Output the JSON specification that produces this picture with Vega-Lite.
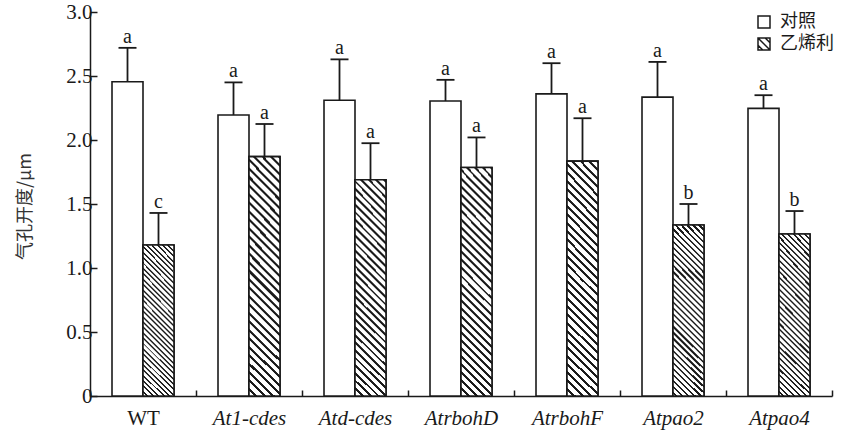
{
  "$schema": "https://vega.github.io/schema/vega-lite/v6.json",
  "autosize": {"type": "none"},
  "padding": {"left": 90, "top": 12, "right": 9, "bottom": 34},
  "width": 742,
  "height": 384,
  "background": "white",
  "config": {"view": {"stroke": null}, "font": "Liberation Serif"},
  "data": {"values": [
    {"gene": "WT", "treatment": "对照", "value": 2.455, "upper": 2.72, "letter": "a"},
    {"gene": "WT", "treatment": "乙烯利", "value": 1.18, "upper": 1.43, "letter": "c"},
    {"gene": "At1-cdes", "treatment": "对照", "value": 2.195, "upper": 2.45, "letter": "a"},
    {"gene": "At1-cdes", "treatment": "乙烯利", "value": 1.87, "upper": 2.125, "letter": "a"},
    {"gene": "Atd-cdes", "treatment": "对照", "value": 2.31, "upper": 2.63, "letter": "a"},
    {"gene": "Atd-cdes", "treatment": "乙烯利", "value": 1.69, "upper": 1.975, "letter": "a"},
    {"gene": "AtrbohD", "treatment": "对照", "value": 2.305, "upper": 2.47, "letter": "a"},
    {"gene": "AtrbohD", "treatment": "乙烯利", "value": 1.785, "upper": 2.02, "letter": "a"},
    {"gene": "AtrbohF", "treatment": "对照", "value": 2.36, "upper": 2.6, "letter": "a"},
    {"gene": "AtrbohF", "treatment": "乙烯利", "value": 1.835, "upper": 2.17, "letter": "a"},
    {"gene": "Atpao2", "treatment": "对照", "value": 2.335, "upper": 2.61, "letter": "a"},
    {"gene": "Atpao2", "treatment": "乙烯利", "value": 1.336, "upper": 1.5, "letter": "b"},
    {"gene": "Atpao4", "treatment": "对照", "value": 2.247, "upper": 2.35, "letter": "a"},
    {"gene": "Atpao4", "treatment": "乙烯利", "value": 1.266, "upper": 1.445, "letter": "b"}
  ]},
  "encoding": {
    "x": {
      "field": "gene", "type": "nominal",
      "sort": ["WT", "At1-cdes", "Atd-cdes", "AtrbohD", "AtrbohF", "Atpao2", "Atpao4"],
      "scale": {"paddingInner": 0, "paddingOuter": 0},
      "axis": {
        "title": null, "tickBand": "extent", "labelAngle": 0,
        "labelFontSize": 21, "labelFont": "Liberation Serif", "labelColor": "#1a1a1a",
        "labelFontStyle": {"condition": {"test": "datum.value === 'WT'", "value": "normal"}, "value": "italic"},
        "labelPadding": 17, "tickSize": -6, "tickColor": "#1a1a1a", "tickWidth": 1.5,
        "domainColor": "#1a1a1a", "domainWidth": 1.5
      }
    },
    "xOffset": {"field": "treatment", "type": "nominal", "sort": ["对照", "乙烯利"], "scale": {"paddingInner": 0, "paddingOuter": 0.71}}
  },
  "layer": [
    {
      "mark": {"type": "point", "filled": false, "color": "#1a1a1a", "strokeWidth": 1.5, "opacity": 1, "yOffset": 60, "size": 20},
      "encoding": {
        "y": {"field": "value", "type": "quantitative"},
        "shape": {
          "field": "treatment", "type": "nominal",
          "scale": {"domain": ["对照", "乙烯利"], "range": ["M-1,-1H1V1H-1Z", "M-1,-1H1V1H-1Z M-1,-1L1,1 M0.2,-1L1,-0.2 M-1,0.2L-0.2,1"]},
          "legend": {
            "title": null, "orient": "none", "legendX": 665, "legendY": 1, "padding": 0,
            "symbolSize": 144, "symbolStrokeColor": "#1a1a1a", "symbolStrokeWidth": 1.5, "symbolOpacity": 1,
            "labelFont": "Noto Sans CJK SC", "labelFontSize": 18, "labelColor": "#1a1a1a", "labelOffset": 7, "rowPadding": 4
          }
        }
      }
    },
    {
      "mark": {"type": "bar", "fill": "#ffffff", "stroke": "#1a1a1a", "strokeWidth": 1.6, "opacity": 1},
      "encoding": {
        "y": {
          "field": "value", "type": "quantitative",
          "scale": {"domain": [0, 3], "nice": false},
          "axis": {
            "title": "气孔开度/μm", "values": [0, 0.5, 1, 1.5, 2, 2.5, 3],
            "labelExpr": "datum.value === 0 ? '0' : format(datum.value, '.1f')",
            "grid": false, "domainColor": "#1a1a1a", "domainWidth": 1.5,
            "tickColor": "#1a1a1a", "tickWidth": 1.5, "tickSize": -7, "labelPadding": 5,
            "labelFontSize": 21, "labelFont": "Liberation Serif", "labelColor": "#1a1a1a",
            "titleFont": "Noto Sans CJK SC", "titleFontSize": 18, "titleFontWeight": "normal", "titleColor": "#333333",
            "titleX": -65, "titleY": 194, "titleAngle": -90, "titleBaseline": "middle", "titleAlign": "center"
          }
        }
      }
    },
    {
      "transform": [{"filter": "datum.treatment === '乙烯利'"}],
      "mark": {"type": "bar", "stroke": "#1a1a1a", "strokeWidth": 1.6, "opacity": 1,
        "fill": {"gradient": "radial", "x1": 20.5, "y1": -19.5, "r1": 27.7843, "x2": 20.5, "y2": -19.5, "r2": 28.7843, "stops": [
          {"offset": 0, "color": "#1a1a1a"}, {"offset": 0.009, "color": "#1a1a1a"}, {"offset": 0.009, "color": "#fff"},
          {"offset": 0.025, "color": "#fff"}, {"offset": 0.025, "color": "#1a1a1a"}, {"offset": 0.034, "color": "#1a1a1a"}, {"offset": 0.034, "color": "#fff"},
          {"offset": 0.05, "color": "#fff"}, {"offset": 0.05, "color": "#1a1a1a"}, {"offset": 0.059, "color": "#1a1a1a"}, {"offset": 0.059, "color": "#fff"},
          {"offset": 0.075, "color": "#fff"}, {"offset": 0.075, "color": "#1a1a1a"}, {"offset": 0.084, "color": "#1a1a1a"}, {"offset": 0.084, "color": "#fff"},
          {"offset": 0.1, "color": "#fff"}, {"offset": 0.1, "color": "#1a1a1a"}, {"offset": 0.109, "color": "#1a1a1a"}, {"offset": 0.109, "color": "#fff"},
          {"offset": 0.125, "color": "#fff"}, {"offset": 0.125, "color": "#1a1a1a"}, {"offset": 0.134, "color": "#1a1a1a"}, {"offset": 0.134, "color": "#fff"},
          {"offset": 0.15, "color": "#fff"}, {"offset": 0.15, "color": "#1a1a1a"}, {"offset": 0.159, "color": "#1a1a1a"}, {"offset": 0.159, "color": "#fff"},
          {"offset": 0.175, "color": "#fff"}, {"offset": 0.175, "color": "#1a1a1a"}, {"offset": 0.184, "color": "#1a1a1a"}, {"offset": 0.184, "color": "#fff"},
          {"offset": 0.2, "color": "#fff"}, {"offset": 0.2, "color": "#1a1a1a"}, {"offset": 0.209, "color": "#1a1a1a"}, {"offset": 0.209, "color": "#fff"},
          {"offset": 0.225, "color": "#fff"}, {"offset": 0.225, "color": "#1a1a1a"}, {"offset": 0.234, "color": "#1a1a1a"}, {"offset": 0.234, "color": "#fff"},
          {"offset": 0.25, "color": "#fff"}, {"offset": 0.25, "color": "#1a1a1a"}, {"offset": 0.259, "color": "#1a1a1a"}, {"offset": 0.259, "color": "#fff"},
          {"offset": 0.275, "color": "#fff"}, {"offset": 0.275, "color": "#1a1a1a"}, {"offset": 0.284, "color": "#1a1a1a"}, {"offset": 0.284, "color": "#fff"},
          {"offset": 0.3, "color": "#fff"}, {"offset": 0.3, "color": "#1a1a1a"}, {"offset": 0.309, "color": "#1a1a1a"}, {"offset": 0.309, "color": "#fff"},
          {"offset": 0.325, "color": "#fff"}, {"offset": 0.325, "color": "#1a1a1a"}, {"offset": 0.334, "color": "#1a1a1a"}, {"offset": 0.334, "color": "#fff"},
          {"offset": 0.35, "color": "#fff"}, {"offset": 0.35, "color": "#1a1a1a"}, {"offset": 0.359, "color": "#1a1a1a"}, {"offset": 0.359, "color": "#fff"},
          {"offset": 0.375, "color": "#fff"}, {"offset": 0.375, "color": "#1a1a1a"}, {"offset": 0.384, "color": "#1a1a1a"}, {"offset": 0.384, "color": "#fff"},
          {"offset": 0.4, "color": "#fff"}, {"offset": 0.4, "color": "#1a1a1a"}, {"offset": 0.409, "color": "#1a1a1a"}, {"offset": 0.409, "color": "#fff"},
          {"offset": 0.425, "color": "#fff"}, {"offset": 0.425, "color": "#1a1a1a"}, {"offset": 0.434, "color": "#1a1a1a"}, {"offset": 0.434, "color": "#fff"},
          {"offset": 0.45, "color": "#fff"}, {"offset": 0.45, "color": "#1a1a1a"}, {"offset": 0.459, "color": "#1a1a1a"}, {"offset": 0.459, "color": "#fff"},
          {"offset": 0.475, "color": "#fff"}, {"offset": 0.475, "color": "#1a1a1a"}, {"offset": 0.484, "color": "#1a1a1a"}, {"offset": 0.484, "color": "#fff"},
          {"offset": 0.5, "color": "#fff"}, {"offset": 0.5, "color": "#1a1a1a"}, {"offset": 0.509, "color": "#1a1a1a"}, {"offset": 0.509, "color": "#fff"},
          {"offset": 0.525, "color": "#fff"}, {"offset": 0.525, "color": "#1a1a1a"}, {"offset": 0.534, "color": "#1a1a1a"}, {"offset": 0.534, "color": "#fff"},
          {"offset": 0.55, "color": "#fff"}, {"offset": 0.55, "color": "#1a1a1a"}, {"offset": 0.559, "color": "#1a1a1a"}, {"offset": 0.559, "color": "#fff"},
          {"offset": 0.575, "color": "#fff"}, {"offset": 0.575, "color": "#1a1a1a"}, {"offset": 0.584, "color": "#1a1a1a"}, {"offset": 0.584, "color": "#fff"},
          {"offset": 0.6, "color": "#fff"}, {"offset": 0.6, "color": "#1a1a1a"}, {"offset": 0.609, "color": "#1a1a1a"}, {"offset": 0.609, "color": "#fff"},
          {"offset": 0.625, "color": "#fff"}, {"offset": 0.625, "color": "#1a1a1a"}, {"offset": 0.634, "color": "#1a1a1a"}, {"offset": 0.634, "color": "#fff"},
          {"offset": 0.65, "color": "#fff"}, {"offset": 0.65, "color": "#1a1a1a"}, {"offset": 0.659, "color": "#1a1a1a"}, {"offset": 0.659, "color": "#fff"},
          {"offset": 0.675, "color": "#fff"}, {"offset": 0.675, "color": "#1a1a1a"}, {"offset": 0.684, "color": "#1a1a1a"}, {"offset": 0.684, "color": "#fff"},
          {"offset": 0.7, "color": "#fff"}, {"offset": 0.7, "color": "#1a1a1a"}, {"offset": 0.709, "color": "#1a1a1a"}, {"offset": 0.709, "color": "#fff"},
          {"offset": 0.725, "color": "#fff"}, {"offset": 0.725, "color": "#1a1a1a"}, {"offset": 0.734, "color": "#1a1a1a"}, {"offset": 0.734, "color": "#fff"},
          {"offset": 0.75, "color": "#fff"}, {"offset": 0.75, "color": "#1a1a1a"}, {"offset": 0.759, "color": "#1a1a1a"}, {"offset": 0.759, "color": "#fff"},
          {"offset": 0.775, "color": "#fff"}, {"offset": 0.775, "color": "#1a1a1a"}, {"offset": 0.784, "color": "#1a1a1a"}, {"offset": 0.784, "color": "#fff"},
          {"offset": 0.8, "color": "#fff"}, {"offset": 0.8, "color": "#1a1a1a"}, {"offset": 0.809, "color": "#1a1a1a"}, {"offset": 0.809, "color": "#fff"},
          {"offset": 0.825, "color": "#fff"}, {"offset": 0.825, "color": "#1a1a1a"}, {"offset": 0.834, "color": "#1a1a1a"}, {"offset": 0.834, "color": "#fff"},
          {"offset": 0.85, "color": "#fff"}, {"offset": 0.85, "color": "#1a1a1a"}, {"offset": 0.859, "color": "#1a1a1a"}, {"offset": 0.859, "color": "#fff"},
          {"offset": 0.875, "color": "#fff"}, {"offset": 0.875, "color": "#1a1a1a"}, {"offset": 0.884, "color": "#1a1a1a"}, {"offset": 0.884, "color": "#fff"},
          {"offset": 0.9, "color": "#fff"}, {"offset": 0.9, "color": "#1a1a1a"}, {"offset": 0.909, "color": "#1a1a1a"}, {"offset": 0.909, "color": "#fff"},
          {"offset": 0.925, "color": "#fff"}, {"offset": 0.925, "color": "#1a1a1a"}, {"offset": 0.934, "color": "#1a1a1a"}, {"offset": 0.934, "color": "#fff"},
          {"offset": 0.95, "color": "#fff"}, {"offset": 0.95, "color": "#1a1a1a"}, {"offset": 0.959, "color": "#1a1a1a"}, {"offset": 0.959, "color": "#fff"},
          {"offset": 0.975, "color": "#fff"}, {"offset": 0.975, "color": "#1a1a1a"}, {"offset": 0.984, "color": "#1a1a1a"}, {"offset": 0.984, "color": "#fff"},
          {"offset": 1, "color": "#fff"}
        ]}
      },
      "encoding": {"y": {"field": "value", "type": "quantitative"}}
    },
    {
      "mark": {"type": "rule", "strokeWidth": 1.8, "color": "#1a1a1a"},
      "encoding": {"y": {"field": "value", "type": "quantitative"}, "y2": {"field": "upper"}}
    },
    {
      "mark": {"type": "tick", "size": 18, "thickness": 1.8, "color": "#1a1a1a", "opacity": 1, "orient": "horizontal"},
      "encoding": {"y": {"field": "upper", "type": "quantitative"}}
    },
    {
      "mark": {"type": "text", "dy": -5, "baseline": "alphabetic", "fontSize": 20, "font": "Liberation Serif", "color": "#1a1a1a"},
      "encoding": {"y": {"field": "upper", "type": "quantitative"}, "text": {"field": "letter"}}
    }
  ]
}
